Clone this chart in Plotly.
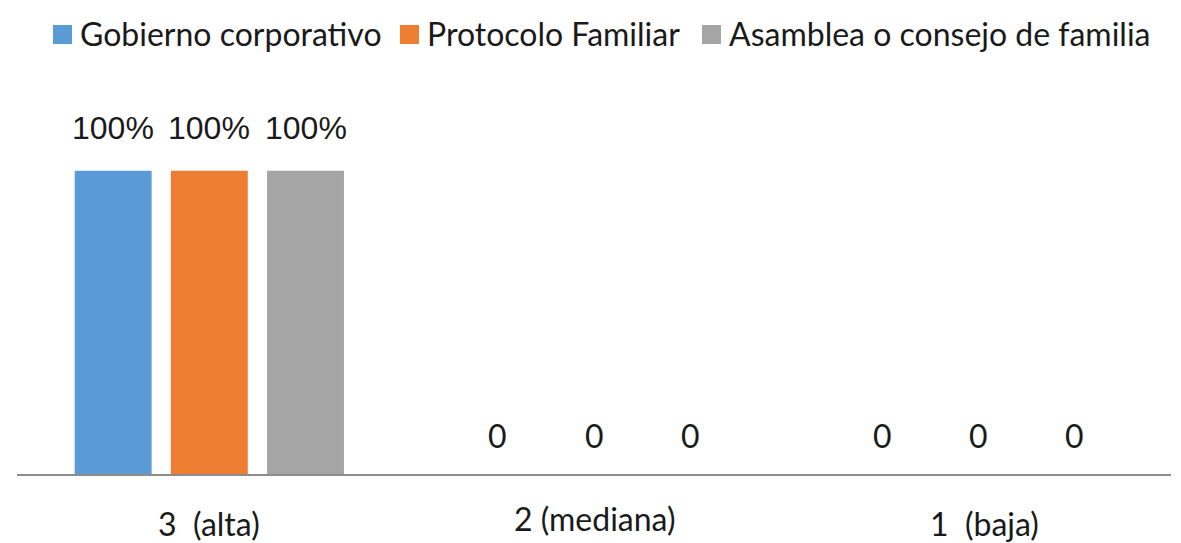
import plotly.graph_objects as go

# ---- data ----
categories = ["3  (alta)", "2 (mediana)", "1  (baja)"]
series_names = ["Gobierno corporativo", "Protocolo Familiar", "Asamblea o consejo de familia"]
gobierno = [1.0, 0, 0]
protocolo = [1.0, 0, 0]
asamblea = [1.0, 0, 0]
series_values = [gobierno, protocolo, asamblea]
colors = ["#5B9BD5", "#ED7D31", "#A5A5A5"]

# ---- layout constants (pixels) ----
W, H = 1181, 543
ML, MR, MT, MB = 17, 10, 110, 69
PW = W - ML - MR
PH = H - MT - MB
TXT = "#1a1a1a"
LATO = "Lato, Carlito, sans-serif"


def px_x(px):
    return (px - ML) / PW


def px_y(py):
    return (H - MB - py) / PH


fig = go.Figure()
x_idx = list(range(len(categories)))
for name, vals, col in zip(series_names, series_values, colors):
    fig.add_trace(go.Bar(x=x_idx, y=vals, name=name, marker=dict(color=col, line=dict(width=0)),
                         showlegend=False, hoverinfo="x+y+name"))

annotations = []
# data labels
n = len(series_names)
bargap, bargroupgap = 0.25, 0.2
slot = (1 - bargap) / n
for si, vals in enumerate(series_values):
    off = (si - (n - 1) / 2) * slot
    for ci, v in enumerate(vals):
        if v > 0:
            txt = f"{v:.0%}"
            font = dict(family="Liberation Sans, Arial", size=32, color=TXT)
            ys = 43
        else:
            txt = "0"
            font = dict(family=LATO, size=32, color=TXT)
            ys = 39
        annotations.append(dict(x=ci + off, y=v, xref="x", yref="y", text=txt, showarrow=False,
                                yanchor="middle", xanchor="center", yshift=ys, font=font))

# category labels
cat_yshift = [-49, -44, -49]
cat_xshift = [0, 1, 6]
cat_size = [32, 32, 32]
for ci, lab in enumerate(categories):
    annotations.append(dict(x=ci, y=0, xref="x", yref="y", text=lab, showarrow=False,
                            yanchor="middle", xanchor="center",
                            yshift=cat_yshift[ci], xshift=cat_xshift[ci],
                            font=dict(family=LATO, size=cat_size[ci], color=TXT)))

# manual legend
legend_sq_x = [53, 400, 702]
legend_txt_x = [78, 425, 727]
shapes = []
for name, col, sx, tx in zip(series_names, colors, legend_sq_x, legend_txt_x):
    shapes.append(dict(type="rect", xref="paper", yref="paper",
                       x0=px_x(sx), x1=px_x(sx + 19), y0=px_y(44), y1=px_y(25),
                       fillcolor=col, line=dict(width=0)))
    annotations.append(dict(x=px_x(tx), y=px_y(33), xref="paper", yref="paper", text=name,
                            showarrow=False, xanchor="left", yanchor="middle",
                            font=dict(family=LATO, size=32, color=TXT)))

fig.update_layout(
    width=W, height=H,
    margin=dict(l=ML, r=MR, t=MT, b=MB, pad=0),
    barmode="group", bargap=bargap, bargroupgap=bargroupgap,
    plot_bgcolor="white", paper_bgcolor="white",
    showlegend=False,
    xaxis=dict(range=[-0.5, len(categories) - 0.5], showline=True, linecolor="#8c8c8c", linewidth=2,
               showticklabels=False, ticks="", showgrid=False, zeroline=False),
    yaxis=dict(range=[0, 1.2], visible=False, showgrid=False, zeroline=False),
    annotations=annotations, shapes=shapes,
)

fig.write_html("out.html")
